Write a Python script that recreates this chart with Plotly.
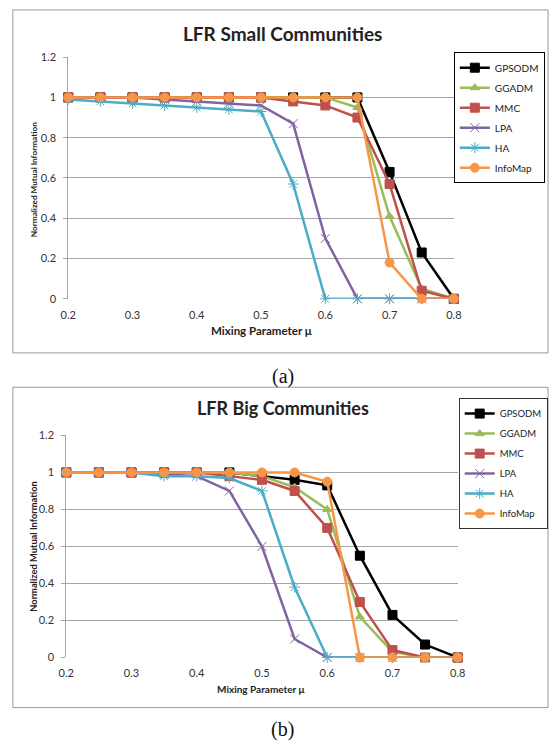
import plotly.graph_objects as go

x_vals = [0.2, 0.25, 0.3, 0.35, 0.4, 0.45, 0.5, 0.55, 0.6, 0.65, 0.7, 0.75, 0.8]
series_names = ["GPSODM", "GGADM", "MMC", "LPA", "HA", "InfoMap"]

small_gpsodm = [1, 1, 1, 1, 1, 1, 1, 1, 1, 1, 0.63, 0.23, 0]
small_ggadm = [1, 1, 1, 1, 1, 1, 1, 1, 1, 0.95, 0.41, 0.05, 0]
small_mmc = [1, 1, 1, 1, 1, 1, 1, 0.98, 0.96, 0.90, 0.57, 0.04, 0]
small_lpa = [1, 1, 1, 0.99, 0.98, 0.97, 0.96, 0.87, 0.30, 0, 0, 0, 0]
small_ha = [0.99, 0.98, 0.97, 0.96, 0.95, 0.94, 0.93, 0.57, 0, 0, 0, 0, 0]
small_infomap = [1, 1, 1, 1, 1, 1, 1, 1, 1, 1, 0.18, 0, 0]

big_gpsodm = [1, 1, 1, 1, 1, 1, 0.98, 0.96, 0.93, 0.55, 0.23, 0.07, 0]
big_ggadm = [1, 1, 1, 1, 1, 1, 0.98, 0.92, 0.80, 0.22, 0.03, 0, 0]
big_mmc = [1, 1, 1, 1, 1, 0.98, 0.96, 0.90, 0.70, 0.30, 0.04, 0, 0]
big_lpa = [1, 1, 1, 0.99, 0.98, 0.90, 0.60, 0.10, 0, 0, 0, 0, 0]
big_ha = [1, 1, 1, 0.98, 0.98, 0.97, 0.90, 0.38, 0, 0, 0, 0, 0]
big_infomap = [1, 1, 1, 1, 1, 1, 1.0, 1.0, 0.95, 0, 0, 0, 0]

y_ticks = [0, 0.2, 0.4, 0.6, 0.8, 1.0, 1.2]
y_labels = ["0", "0.2", "0.4", "0.6", "0.8", "1", "1.2"]
x_ticks = [0.2, 0.3, 0.4, 0.5, 0.6, 0.7, 0.8]
x_labels = ["0.2", "0.3", "0.4", "0.5", "0.6", "0.7", "0.8"]

colors = ["#000000", "#9BBB59", "#C0504D", "#8064A2", "#4BACC6", "#F79646"]
symbols = ["square", "triangle-up", "square", "x-thin-open", "asterisk-open", "circle"]
msizes = [9, 8, 9, 9, 9, 9]

W, H = 558, 748

def px(x):
    return x / W

def py(y):
    return 1 - y / H

fig = go.Figure()

panels = [
    dict(data=[small_gpsodm, small_ggadm, small_mmc, small_lpa, small_ha, small_infomap],
         xa="x", ya="y", legend="legend", xdom=[px(62), px(459)], ydom=[py(297), py(51)]),
    dict(data=[big_gpsodm, big_ggadm, big_mmc, big_lpa, big_ha, big_infomap],
         xa="x2", ya="y2", legend="legend2", xdom=[px(60), px(463)], ydom=[py(662), py(436)]),
]

for pi, p in enumerate(panels):
    for i, (name, ys) in enumerate(zip(series_names, p["data"])):
        fig.add_trace(go.Scatter(
            x=x_vals, y=ys, name=name, mode="lines+markers",
            line=dict(color=colors[i], width=2.5),
            marker=dict(symbol=symbols[i], size=msizes[i], color=colors[i],
                        line=dict(color=colors[i], width=1)),
            xaxis=p["xa"], yaxis=p["ya"], legend=p["legend"],
            legendgroup=f"{pi}_{name}", cliponaxis=False,
        ))

fnt = "Lato, Liberation Sans, sans-serif"
axis_common_x = dict(range=[0.2, 0.8], tickvals=x_ticks, ticktext=x_labels,
                     showgrid=False, zeroline=False, showline=False,
                     tickfont=dict(family=fnt, size=11, color="#333"),
                     ticks="", ticklabelstandoff=8, fixedrange=True)
axis_common_y = dict(range=[0, 1.2], tickvals=y_ticks, ticktext=y_labels,
                     showgrid=True, gridcolor="#A6A6A6", gridwidth=1, zeroline=False,
                     showline=True, linecolor="#A6A6A6", linewidth=1,
                     tickfont=dict(family=fnt, size=11, color="#333"),
                     ticks="outside", ticklen=4, tickcolor="#A6A6A6",
                     ticklabelstandoff=5, fixedrange=True)

fig.update_layout(
    width=W, height=H,
    margin=dict(l=0, r=0, t=0, b=0),
    paper_bgcolor="white", plot_bgcolor="white",
    xaxis=dict(domain=panels[0]["xdom"], anchor="y", **axis_common_x),
    yaxis=dict(domain=panels[0]["ydom"], anchor="x", **axis_common_y),
    xaxis2=dict(domain=panels[1]["xdom"], anchor="y2", **axis_common_x),
    yaxis2=dict(domain=panels[1]["ydom"], anchor="x2", **axis_common_y),
    legend=dict(x=px(459), y=py(46), xanchor="left", yanchor="top",
                bordercolor="#000", borderwidth=1, bgcolor="white",
                font=dict(family=fnt, size=10, color="#222"),
                tracegroupgap=1, itemwidth=30),
    legend2=dict(x=px(464), y=py(398), xanchor="left", yanchor="top",
                 bordercolor="#333", borderwidth=1, bgcolor="white",
                 font=dict(family=fnt, size=9.5, color="#222"),
                 tracegroupgap=1, itemwidth=30),
    showlegend=True,
)

# Panel borders
for (y0, y1) in [(3, 352), (387, 713)]:
    fig.add_shape(type="rect", xref="paper", yref="paper",
                  x0=px(5), x1=px(556), y0=py(y1), y1=py(y0),
                  line=dict(color="#999", width=1), fillcolor="rgba(0,0,0,0)", layer="below")

annotations = [
    dict(text="<b>LFR Small Communities</b>", x=px(283), y=py(27), size=19),
    dict(text="<b>LFR Big Communities</b>", x=px(283), y=py(408), size=18),
    dict(text="<b>Mixing Parameter μ</b>", x=px(261), y=py(329), size=11.5),
    dict(text="<b>Mixing Parameter μ</b>", x=px(261), y=py(694), size=10),
]
for a in annotations:
    fig.add_annotation(text=a["text"], x=a["x"], y=a["y"], xref="paper", yref="paper",
                       showarrow=False, xanchor="center", yanchor="middle",
                       font=dict(family=fnt, size=a["size"], color="#222"))

for (xx, yy, s) in [(27, 176, 8.2), (26, 549, 9.3)]:
    fig.add_annotation(text="<b>Normalized Mutual Information</b>", x=px(xx), y=py(yy),
                       xref="paper", yref="paper", showarrow=False, textangle=-90,
                       xanchor="center", yanchor="middle",
                       font=dict(family=fnt, size=s, color="#222"))

for (txt, yy) in [("(a)", 376), ("(b)", 735)]:
    fig.add_annotation(text=txt, x=px(283), y=py(yy), xref="paper", yref="paper",
                       showarrow=False, xanchor="center", yanchor="middle",
                       font=dict(family="Liberation Serif, serif", size=20, color="#111"))

fig.write_html("out.html", config={"displayModeBar": False},
               post_script="document.body.style.margin='0px';document.body.style.overflow='hidden';")
